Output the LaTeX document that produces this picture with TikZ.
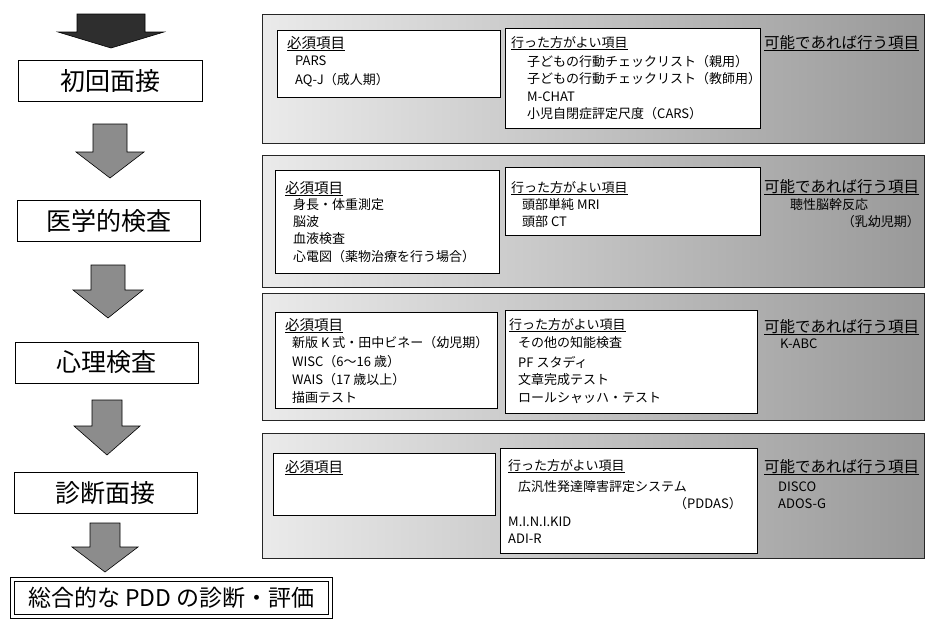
\documentclass[tikz,border=0pt]{standalone}
\usepackage{fontspec}
\setmainfont{Noto Sans CJK JP}
\newcommand\blkarrow[7]{% cx, top, neck, tip, half shaft, half head, style
  \draw[#7] (#1-#5,#2) -- (#1+#5,#2) -- (#1+#5,#3) -- (#1+#6,#3) -- (#1,#4)
    -- (#1-#6,#3) -- (#1-#5,#3) -- cycle;}
\begin{document}
\begin{tikzpicture}[x=1pt,y=-1pt,
  lbox/.style={draw, line width=0.8pt, fill=white, inner sep=0pt,
    minimum height=41pt, font=\fontsize{25}{25}\selectfont},
  wbox/.style={draw, line width=0.9pt, fill=white},
  panel/.style={draw=black!85, line width=0.8pt, left color=black!8, right color=black!40},
  txt/.style={anchor=west, inner sep=0pt, font=\fontsize{13}{13}\selectfont},
  txtr/.style={anchor=east, inner sep=0pt, font=\fontsize{13}{13}\selectfont},
  hdn/.style={anchor=west, inner sep=0pt, font=\fontsize{14.5}{14.5}\selectfont},
  hdr/.style={anchor=west, inner sep=0pt, font=\fontsize{13}{13}\selectfont},
  hdp/.style={anchor=west, inner sep=0pt, font=\fontsize{15.5}{15.5}\selectfont},
  uline/.style={line width=0.6pt},
  darkarrow/.style={draw=black, line width=0.6pt, fill=black!82},
  grayarrow/.style={draw=black, line width=0.6pt, fill=black!45}
]
\useasboundingbox (0,0) rectangle (925,635);

% ---------- left column ----------
\blkarrow{111}{14}{32}{48}{34}{53}{darkarrow}
\node[lbox, minimum width=184pt] (b1) at (110,81) {初回面接};
\blkarrow{110}{124}{152}{178}{17}{34}{grayarrow}
\node[lbox, minimum width=183pt] (b2) at (108.5,221) {医学的検査};
\blkarrow{108}{265}{290}{318}{17}{35}{grayarrow}
\node[lbox, minimum width=183pt] (b3) at (106.5,362.5) {心理検査};
\blkarrow{107}{400}{426}{455}{15}{33}{grayarrow}
\node[lbox, minimum width=183pt] (b4) at (105.5,493) {診断面接};
\blkarrow{105}{523}{547}{572}{15}{33}{grayarrow}
\node[draw, double, double distance=3.5pt, line width=0.7pt, fill=white,
  minimum width=318pt, minimum height=37pt, inner sep=0pt,
  font=\fontsize{23}{23}\selectfont] (b5) at (171.5,598) {総合的な PDD の診断・評価};

% ---------- panel 1 ----------
\path[panel] (262,14) rectangle (924,143);
\draw[wbox] (277,30) rectangle (500,97);
\draw[wbox] (505,28) rectangle (760,128);
\node[hdn] (p1a) at (287,43) {必須項目};
\node[txt] (p1a1) at (295,61) {PARS};
\node[txt] (p1a2) at (295,80) {AQ-J（成人期）};
\node[hdr] (p1b) at (511,43) {行った方がよい項目};
\node[txt] (p1b1) at (527,62) {子どもの行動チェックリスト（親用）};
\node[txt] (p1b2) at (527,79) {子どもの行動チェックリスト（教師用）};
\node[txt] (p1b3) at (527,97) {M-CHAT};
\node[txt] (p1b4) at (527,114) {小児自閉症評定尺度（CARS）};
\node[hdp] (p1c) at (764,43) {可能であれば行う項目};

% ---------- panel 2 ----------
\path[panel] (262,155) rectangle (924,287);
\draw[wbox] (275,170) rectangle (499,273);
\draw[wbox] (505,167) rectangle (760,235);
\node[hdn] (p2a) at (285,188) {必須項目};
\node[txt] (p2a1) at (293,205) {身長・体重測定};
\node[txt] (p2a2) at (293,222) {脳波};
\node[txt] (p2a3) at (293,239) {血液検査};
\node[txt] (p2a4) at (293,257) {心電図（薬物治療を行う場合）};
\node[hdr] (p2b) at (511,188) {行った方がよい項目};
\node[txt] (p2b1) at (522,205) {頭部単純 MRI};
\node[txt] (p2b2) at (522,222) {頭部 CT};
\node[hdp] (p2c) at (764,187) {可能であれば行う項目};
\node[txt] (p2c1) at (790,205) {聴性脳幹反応};
\node[txtr] (p2c2) at (920,222) {（乳幼児期）};

% ---------- panel 3 ----------
\path[panel] (262,293) rectangle (924,420);
\draw[wbox] (275,312) rectangle (497,408);
\draw[wbox] (505,310) rectangle (757,413);
\node[hdn] (p3a) at (285,325) {必須項目};
\node[txt] (p3a1) at (292,343) {新版 K 式・田中ビネー（幼児期）};
\node[txt] (p3a2) at (292,362) {WISC（6〜16 歳）};
\node[txt] (p3a3) at (292,380) {WAIS（17 歳以上）};
\node[txt] (p3a4) at (292,398) {描画テスト};
\node[hdr] (p3b) at (509,325) {行った方がよい項目};
\node[txt] (p3b1) at (518,343) {その他の知能検査};
\node[txt] (p3b2) at (518,362) {PF スタディ};
\node[txt] (p3b3) at (518,380) {文章完成テスト};
\node[txt] (p3b4) at (518,398) {ロールシャッハ・テスト};
\node[hdp] (p3c) at (764,327) {可能であれば行う項目};
\node[txt] (p3c1) at (780,344) {K-ABC};

% ---------- panel 4 ----------
\path[panel] (262,433) rectangle (924,558);
\draw[wbox] (273,453) rectangle (495,515);
\draw[wbox] (500,448) rectangle (757,553);
\node[hdn] (p4a) at (285,467) {必須項目};
\node[hdr] (p4b) at (508,466) {行った方がよい項目};
\node[txt] (p4b1) at (518,487) {広汎性発達障害評定システム};
\node[txtr] (p4b2) at (742,504) {（PDDAS）};
\node[txt] (p4b3) at (508,522) {M.I.N.I.KID};
\node[txt] (p4b4) at (508,539) {ADI-R};
\node[hdp] (p4c) at (764,467) {可能であれば行う項目};
\node[txt] (p4c1) at (778,487) {DISCO};
\node[txt] (p4c2) at (778,504) {ADOS-G};

% ---------- header underlines ----------
\foreach \n in {p1a,p1b,p1c,p2a,p2b,p2c,p3a,p3b,p3c,p4a,p4b,p4c}
  \draw[uline] (\n.south west) -- (\n.south east);
\end{tikzpicture}
\end{document}
